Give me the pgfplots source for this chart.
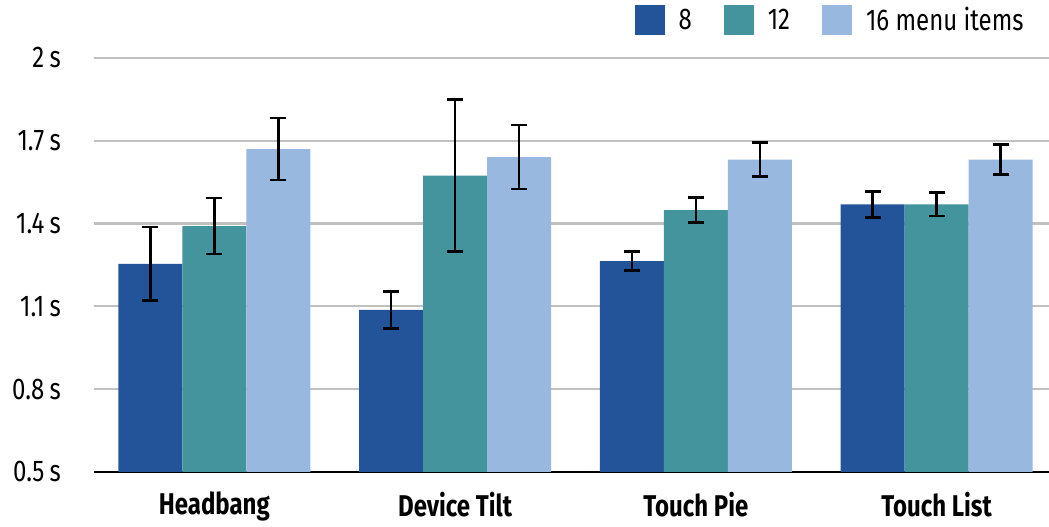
\documentclass[border=0pt]{standalone}
\usepackage{fontspec}
\setmainfont[FakeStretch=0.8]{Fira Sans}
\usepackage{pgfplots}
\pgfplotsset{compat=1.18}
\definecolor{cA}{HTML}{235399}
\definecolor{cB}{HTML}{43949D}
\definecolor{cC}{HTML}{99B8E0}
\definecolor{gridc}{HTML}{C0C0C0}
\begin{document}
\begin{tikzpicture}
\begin{axis}[
  scale only axis,
  width=481.5pt, height=207pt,
  xmin=-0.5, xmax=3.5, ymin=0.5, ymax=2,
  ybar=0pt, bar width=32pt,
  xtick={0,1,2,3},
  xticklabels={Headbang, Device Tilt, Touch Pie, Touch List},
  ytick={0.5,0.8,1.1,1.4,1.7,2},
  yticklabels={0.5\kern0.18em s, 0.8\kern0.18em s, 1.1\kern0.18em s, 1.4\kern0.18em s, 1.7\kern0.18em s, 2\kern0.18em s},
  major tick length=0pt,
  ymajorgrids, grid style={gridc, line width=1.1pt},
  axis x line*=bottom, axis y line*=left,
  x axis line style={black, line width=1.1pt, -},
  y axis line style={draw=none},
  tick label style={font=\fontsize{15}{18}\selectfont},
  xticklabel style={font=\fontsize{15}{18}\selectfont\bfseries, yshift=-6.5pt},
  yticklabel style={xshift=-13pt},
  legend columns=3,
  legend style={draw=none, at={(rel axis cs:1,1)}, anchor=south east, xshift=-14.5pt, yshift=10pt,
    font=\fontsize{15}{18}\selectfont, inner sep=0pt,
    /tikz/every odd column/.append style={column sep=5pt},
    /tikz/every even column/.append style={column sep=14pt}},
  legend image code/.code={\fill[#1] (0pt,-7.5pt) rectangle (15pt,7.5pt);},
  error bars/y dir=both, error bars/y explicit,
  error bars/error bar style={black, line width=1.3pt},
  error bars/error mark options={rotate=90, mark size=4pt, black, line width=1.3pt},
]
\addplot[fill=cA, draw=none] coordinates {
 (0,1.254) +- (0,0.133)
 (1,1.087) +- (0,0.067)
 (2,1.264) +- (0,0.034)
 (3,1.470) +- (0,0.047)};
\addplot[fill=cB, draw=none] coordinates {
 (0,1.391) +- (0,0.101)
 (1,1.574) +- (0,0.275)
 (2,1.449) +- (0,0.045)
 (3,1.470) +- (0,0.043)};
\addplot[fill=cC, draw=none] coordinates {
 (0,1.670) +- (0,0.112)
 (1,1.641) +- (0,0.116)
 (2,1.632) +- (0,0.062)
 (3,1.632) +- (0,0.054)};
\legend{8, 12, 16 menu items}
\end{axis}
\pgfresetboundingbox
\path (current axis.south west) ++(-47pt,-27.5pt) coordinate (bl);
\path (current axis.north west) ++(477.5pt,29pt) coordinate (tr);
\useasboundingbox (bl) rectangle (tr);
\end{tikzpicture}
\end{document}
